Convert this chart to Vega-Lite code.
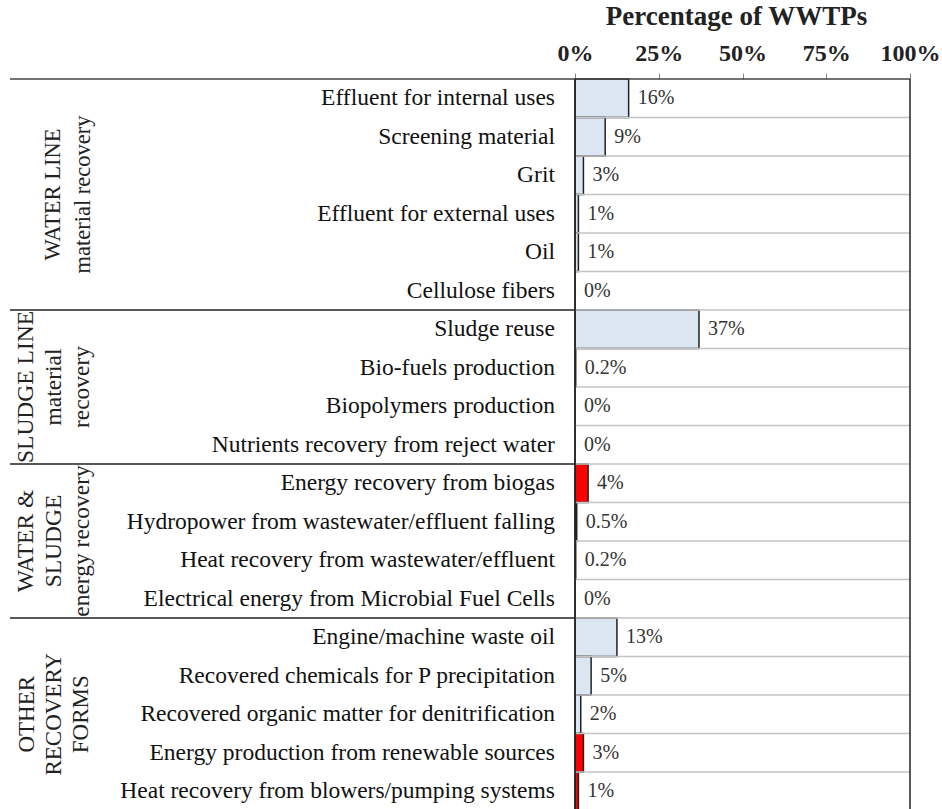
{
  "$schema": "https://vega.github.io/schema/vega-lite/v6.json",
  "width": 900,
  "height": 731.5,
  "autosize": {"type": "none"},
  "padding": {"top": 79, "left": 10, "right": 32, "bottom": 0},
  "background": "white",
  "config": {"view": {"stroke": null}, "font": "Liberation Serif"},
  "data": {
    "values": [
      {"group": "water", "item": "Effluent for internal uses", "value": 16, "label": "16%", "kind": "material"},
      {"group": "water", "item": "Screening material", "value": 9, "label": "9%", "kind": "material"},
      {"group": "water", "item": "Grit", "value": 2.5, "label": "3%", "kind": "material"},
      {"group": "water", "item": "Effluent for external uses", "value": 1, "label": "1%", "kind": "material", "glabel": ["WATER LINE", "material recovery"]},
      {"group": "water", "item": "Oil", "value": 1, "label": "1%", "kind": "material"},
      {"group": "water", "item": "Cellulose fibers", "value": 0, "label": "0%", "kind": "material"},
      {"group": "sludge", "item": "Sludge reuse", "value": 37, "label": "37%", "kind": "material"},
      {"group": "sludge", "item": "Bio-fuels production", "value": 0.2, "label": "0.2%", "kind": "material"},
      {"group": "sludge", "item": "Biopolymers production", "value": 0, "label": "0%", "kind": "material", "glabel": ["SLUDGE LINE", "material", "recovery"]},
      {"group": "sludge", "item": "Nutrients recovery from reject water", "value": 0, "label": "0%", "kind": "material"},
      {"group": "energy", "item": "Energy recovery from biogas", "value": 3.9, "label": "4%", "kind": "energy"},
      {"group": "energy", "item": "Hydropower from wastewater/effluent falling", "value": 0.5, "label": "0.5%", "kind": "energy"},
      {"group": "energy", "item": "Heat recovery from wastewater/effluent", "value": 0.2, "label": "0.2%", "kind": "energy", "glabel": ["WATER &", "SLUDGE", "energy recovery"]},
      {"group": "energy", "item": "Electrical energy from Microbial Fuel Cells", "value": 0, "label": "0%", "kind": "energy"},
      {"group": "other", "item": "Engine/machine waste oil", "value": 12.5, "label": "13%", "kind": "material"},
      {"group": "other", "item": "Recovered chemicals for P precipitation", "value": 4.8, "label": "5%", "kind": "material"},
      {"group": "other", "item": "Recovered organic matter for denitrification", "value": 1.7, "label": "2%", "kind": "material", "glabel": ["OTHER", "RECOVERY", "FORMS"]},
      {"group": "other", "item": "Energy production from renewable sources", "value": 2.5, "label": "3%", "kind": "energy"},
      {"group": "other", "item": "Heat recovery from blowers/pumping systems", "value": 1, "label": "1%", "kind": "energy"}
    ]
  },
  "layer": [
    {
      "mark": {"type": "bar", "stroke": "#222222", "strokeWidth": 1.5},
      "encoding": {
        "y": {
          "field": "item",
          "type": "nominal",
          "sort": null,
          "scale": {"paddingInner": 0, "paddingOuter": 0},
          "axis": null
        },
        "x": {
          "field": "value",
          "type": "quantitative",
          "scale": {"domain": [-168.7, 100], "nice": false, "zero": false},
          "axis": {
            "orient": "top",
            "values": [0, 25, 50, 75, 100],
            "labelExpr": "datum.value + '%'",
            "labelFlush": false,
            "labelOverlap": false,
            "domain": false,
            "grid": false,
            "ticks": true,
            "tickColor": "#888888",
            "tickSize": 6,
            "labelFont": "Liberation Serif",
            "labelFontWeight": "bold",
            "labelFontSize": 24,
            "labelColor": "#222222",
            "labelPadding": 8,
            "title": "Percentage of WWTPs",
            "titleFont": "Liberation Serif",
            "titleFontWeight": "bold",
            "titleFontSize": 27,
            "titleColor": "#222222",
            "titleX": 726,
            "titleY": -55,
            "titleAlign": "center",
            "titleBaseline": "alphabetic"
          }
        },
        "fill": {
          "field": "kind",
          "type": "nominal",
          "scale": {"domain": ["material", "energy"], "range": ["#dce6f2", "#ff0000"]},
          "legend": null
        }
      }
    },
    {
      "transform": [{"filter": "datum.item != 'Effluent for internal uses'"}],
      "mark": {"type": "rule", "color": "#c4c4c4", "strokeWidth": 1.5},
      "encoding": {
        "y": {"field": "item", "type": "nominal", "sort": null, "bandPosition": 0},
        "x": {"datum": 0, "type": "quantitative"},
        "x2": {"datum": 100}
      }
    },
    {
      "transform": [{"filter": "datum.item == 'Effluent for internal uses'"}],
      "mark": {"type": "rule", "color": "#444444", "strokeWidth": 1.5},
      "encoding": {
        "y": {"field": "item", "type": "nominal", "sort": null, "bandPosition": 0},
        "x": {"datum": -168.7, "type": "quantitative"},
        "x2": {"datum": 100}
      }
    },
    {
      "transform": [{"filter": "indexof(['Sludge reuse', 'Energy recovery from biogas', 'Engine/machine waste oil'], datum.item) >= 0"}],
      "mark": {"type": "rule", "color": "#222222", "strokeWidth": 1.5},
      "encoding": {
        "y": {"field": "item", "type": "nominal", "sort": null, "bandPosition": 0},
        "x": {"datum": -168.7, "type": "quantitative"},
        "x2": {"datum": 0}
      }
    },
    {
      "data": {"values": [{"edge": "left"}]},
      "mark": {"type": "rule", "color": "#222222", "strokeWidth": 1.5},
      "encoding": {"x": {"datum": 0, "type": "quantitative"}}
    },
    {
      "data": {"values": [{"edge": "right"}]},
      "mark": {"type": "rule", "color": "#222222", "strokeWidth": 1.5},
      "encoding": {"x": {"datum": 100, "type": "quantitative"}}
    },
    {
      "mark": {"type": "text", "align": "left", "baseline": "middle", "dx": 9, "fontSize": 20, "color": "#333333", "font": "Liberation Serif"},
      "encoding": {
        "y": {"field": "item", "type": "nominal", "sort": null},
        "x": {"field": "value", "type": "quantitative"},
        "text": {"field": "label"}
      }
    },
    {
      "mark": {"type": "text", "align": "right", "baseline": "middle", "fontSize": 23.5, "color": "#111111", "font": "Liberation Serif"},
      "encoding": {
        "y": {"field": "item", "type": "nominal", "sort": null},
        "x": {"datum": -6, "type": "quantitative"},
        "text": {"field": "item"}
      }
    },
    {
      "transform": [{"filter": "datum.group == 'water'"}, {"filter": "isValid(datum.glabel)"}],
      "mark": {"type": "text", "align": "center", "baseline": "middle", "angle": 270, "fontSize": 22.5, "lineHeight": 30, "color": "#222222", "font": "Liberation Serif"},
      "encoding": {
        "y": {"field": "item", "type": "nominal", "sort": null, "bandPosition": 0},
        "x": {"datum": -156, "type": "quantitative"},
        "text": {"field": "glabel"}
      }
    },
    {
      "transform": [{"filter": "datum.group == 'sludge' || datum.group == 'energy'"}, {"filter": "isValid(datum.glabel)"}],
      "mark": {"type": "text", "align": "center", "baseline": "middle", "angle": 270, "fontSize": 23.5, "lineHeight": 28, "color": "#222222", "font": "Liberation Serif"},
      "encoding": {
        "y": {"field": "item", "type": "nominal", "sort": null, "bandPosition": 0},
        "x": {"datum": -164, "type": "quantitative"},
        "text": {"field": "glabel"}
      }
    },
    {
      "transform": [{"filter": "datum.group == 'other'"}, {"filter": "isValid(datum.glabel)"}],
      "mark": {"type": "text", "align": "center", "baseline": "middle", "angle": 270, "fontSize": 23, "lineHeight": 27, "color": "#222222", "font": "Liberation Serif"},
      "encoding": {
        "y": {"field": "item", "type": "nominal", "sort": null, "bandPosition": 0.5},
        "x": {"datum": -163.5, "type": "quantitative"},
        "text": {"field": "glabel"}
      }
    }
  ]
}
